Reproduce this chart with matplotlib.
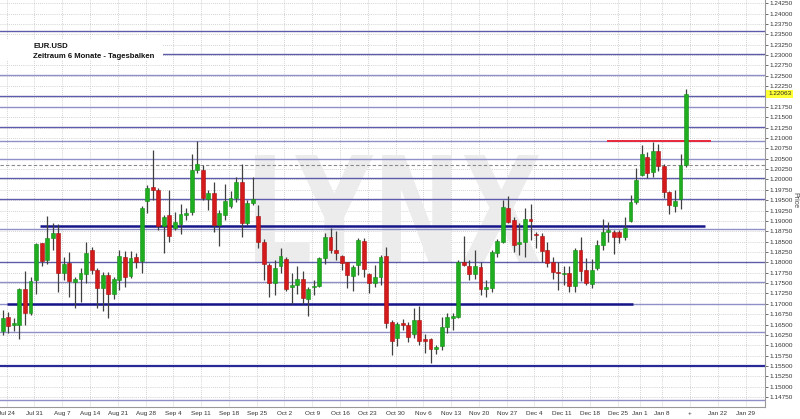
import numpy as np
import pandas as pd
import matplotlib
matplotlib.use("Agg")
import matplotlib.pyplot as plt
from matplotlib.textpath import TextPath
from matplotlib.patches import PathPatch, Rectangle
from matplotlib.transforms import Affine2D, blended_transform_factory
from matplotlib.font_manager import FontProperties

plt.rcParams['font.family'] = ['Liberation Sans', 'DejaVu Sans']

# ---------------- data ----------------
holidays = ["2017-12-25", "2018-01-01"]
start_date = "2017-07-21"
end_date = "2018-01-12"
axis_end_date = "2018-02-09"

opens = [1.1635, 1.1669, 1.1649, 1.1649, 1.1735, 1.1679, 1.1757, 1.1846, 1.1806, 1.1858,
         1.1871, 1.1775, 1.1798, 1.1753, 1.1761, 1.1772, 1.1830, 1.1782, 1.1737, 1.1769,
         1.1724, 1.1757, 1.1814, 1.1766, 1.1812, 1.1804, 1.1947, 1.1981, 1.1975, 1.1888,
         1.1914, 1.1884, 1.1893, 1.1914, 1.1922, 1.2024, 1.2024, 1.1953, 1.1968, 1.1890,
         1.1914, 1.1936, 1.1955, 1.1995, 1.1894, 1.1944, 1.1912, 1.1850, 1.1794, 1.1749,
         1.1790, 1.1807, 1.1740, 1.1745, 1.1761, 1.1712, 1.1740, 1.1743, 1.1810, 1.1860,
         1.1831, 1.1815, 1.1800, 1.1768, 1.1794, 1.1852, 1.1772, 1.1751, 1.1765, 1.1815,
         1.1657, 1.1617, 1.1653, 1.1648, 1.1627, 1.1661, 1.1614, 1.1614, 1.1590, 1.1599,
         1.1643, 1.1665, 1.1669, 1.1802, 1.1790, 1.1773, 1.1788, 1.1735, 1.1737, 1.1823,
         1.1850, 1.1930, 1.1901, 1.1845, 1.1850, 1.1904, 1.1868, 1.1864, 1.1830, 1.1802,
         1.1777, 1.1772, 1.1775, 1.1743, 1.1830, 1.1782, 1.1748, 1.1786, 1.1842, 1.1874,
         1.1874, 1.1874, 1.1860, 1.1900, 1.1945, 1.2011, 1.2053, 1.2017, 1.2069, 1.2033,
         1.1969, 1.1937, 1.1953, 1.2035]
highs = [1.1685, 1.1681, 1.1665, 1.1737, 1.1779, 1.1764, 1.1847, 1.1847, 1.1912, 1.1894,
         1.1892, 1.1814, 1.1826, 1.1765, 1.1786, 1.1850, 1.1838, 1.1786, 1.1777, 1.1777,
         1.1765, 1.1830, 1.1828, 1.1827, 1.1822, 1.1936, 1.1987, 1.2071, 1.1979, 1.1914,
         1.1975, 1.1922, 1.1942, 1.1930, 1.2062, 1.2094, 1.2034, 1.1975, 1.1995, 1.1926,
         1.1988, 1.1973, 1.2007, 1.2037, 1.1950, 1.2007, 1.1938, 1.1856, 1.1798, 1.1806,
         1.1834, 1.1814, 1.1775, 1.1790, 1.1780, 1.1741, 1.1757, 1.1814, 1.1872, 1.1882,
         1.1876, 1.1818, 1.1802, 1.1794, 1.1858, 1.1858, 1.1775, 1.1794, 1.1818, 1.1838,
         1.1661, 1.1657, 1.1663, 1.1657, 1.1689, 1.1695, 1.1627, 1.1617, 1.1600, 1.1669,
         1.1678, 1.1677, 1.1806, 1.1863, 1.1805, 1.1830, 1.1800, 1.1757, 1.1830, 1.1856,
         1.1950, 1.1960, 1.1910, 1.1894, 1.1930, 1.1941, 1.1874, 1.1872, 1.1850, 1.1814,
         1.1802, 1.1791, 1.1791, 1.1834, 1.1862, 1.1810, 1.1807, 1.1854, 1.1904, 1.1898,
         1.1877, 1.1877, 1.1910, 1.1963, 1.2027, 1.2082, 1.2067, 1.2090, 1.2085, 1.2037,
         1.1972, 1.1975, 1.2061, 1.2218]
lows = [1.1625, 1.1629, 1.1635, 1.1614, 1.1649, 1.1673, 1.1724, 1.1790, 1.1795, 1.1831,
        1.1729, 1.1757, 1.1717, 1.1689, 1.1705, 1.1751, 1.1772, 1.1689, 1.1683, 1.1665,
        1.1711, 1.1733, 1.1741, 1.1762, 1.1786, 1.1774, 1.1918, 1.1950, 1.1878, 1.1823,
        1.1850, 1.1878, 1.1868, 1.1902, 1.1914, 1.2016, 1.1950, 1.1926, 1.1874, 1.1839,
        1.1902, 1.1930, 1.1946, 1.1862, 1.1890, 1.1938, 1.1834, 1.1757, 1.1717, 1.1721,
        1.1775, 1.1732, 1.1700, 1.1724, 1.1700, 1.1670, 1.1721, 1.1740, 1.1796, 1.1822,
        1.1806, 1.1782, 1.1737, 1.1731, 1.1770, 1.1764, 1.1727, 1.1741, 1.1745, 1.1641,
        1.1577, 1.1597, 1.1637, 1.1609, 1.1617, 1.1601, 1.1582, 1.1556, 1.1580, 1.1588,
        1.1630, 1.1637, 1.1665, 1.1790, 1.1757, 1.1761, 1.1722, 1.1717, 1.1729, 1.1814,
        1.1846, 1.1894, 1.1826, 1.1818, 1.1814, 1.1854, 1.1834, 1.1801, 1.1789, 1.1761,
        1.1733, 1.1745, 1.1729, 1.1729, 1.1756, 1.1745, 1.1737, 1.1782, 1.1830, 1.1850,
        1.1820, 1.1846, 1.1855, 1.1898, 1.1942, 1.2009, 1.2003, 1.2007, 1.2020, 1.1956,
        1.1916, 1.1922, 1.1929, 1.2031]
closes = [1.1665, 1.1647, 1.1653, 1.1735, 1.1677, 1.1755, 1.1844, 1.1803, 1.1858, 1.1871,
          1.1775, 1.1796, 1.1755, 1.1761, 1.1775, 1.1822, 1.1782, 1.1737, 1.1769, 1.1724,
          1.1761, 1.1815, 1.1764, 1.1810, 1.1802, 1.1930, 1.1980, 1.1975, 1.1888, 1.1910,
          1.1864, 1.1898, 1.1916, 1.1920, 1.2024, 1.2037, 1.1955, 1.1968, 1.1890, 1.1920,
          1.1949, 1.1955, 1.1995, 1.1896, 1.1944, 1.1952, 1.1850, 1.1796, 1.1749, 1.1786,
          1.1815, 1.1735, 1.1746, 1.1761, 1.1715, 1.1735, 1.1743, 1.1810, 1.1860, 1.1831,
          1.1823, 1.1798, 1.1770, 1.1788, 1.1854, 1.1785, 1.1751, 1.1764, 1.1813, 1.1653,
          1.1611, 1.1651, 1.1648, 1.1621, 1.1661, 1.1611, 1.1611, 1.1590, 1.1596, 1.1645,
          1.1667, 1.1671, 1.1802, 1.1794, 1.1771, 1.1791, 1.1735, 1.1740, 1.1826, 1.1852,
          1.1934, 1.1898, 1.1842, 1.1848, 1.1904, 1.1900, 1.1866, 1.1828, 1.1799, 1.1777,
          1.1775, 1.1774, 1.1743, 1.1830, 1.1780, 1.1751, 1.1781, 1.1842, 1.1874, 1.1877,
          1.1860, 1.1860, 1.1884, 1.1945, 1.1999, 1.2061, 1.2015, 1.2069, 1.2033, 1.1969,
          1.1938, 1.1948, 1.2035, 1.22063]

week_labels = ["Jul 24", "Jul 31", "Aug 7", "Aug 14", "Aug 21", "Aug 28", "Sep 4", "Sep 11",
               "Sep 18", "Sep 25", "Oct 2", "Oct 9", "Oct 16", "Oct 23", "Oct 30", "Nov 6",
               "Nov 13", "Nov 20", "Nov 27", "Dec 4", "Dec 11", "Dec 18", "Dec 25", "Jan 1",
               "Jan 8", "+", "Jan 22", "Jan 29"]

# support / resistance levels (full width)
levels_dark = [1.2359, 1.2302, 1.2202, 1.2127, 1.2004, 1.1952, 1.1801]
levels_light = [1.2252, 1.2174, 1.2094, 1.2049, 1.1880, 1.1753, 1.1700, 1.1632, 1.1469]
level_bold_full = 1.1550
# partial thick lines: (price, start date, end date)
thick_lines = [(1.1888, "2017-08-01", "2018-01-17"), (1.1700, "2017-07-24", "2017-12-28")]
red_line = (1.2093, "2017-12-21", "2018-01-18")
prev_close = 1.2035
last_price = 1.22063

title1 = "EUR.USD"
title2 = "Zeitraum 6 Monate - Tagesbalken"

# ---------------- build axis ----------------
all_days = pd.bdate_range(start_date, axis_end_date)
all_days = all_days[~all_days.isin(pd.to_datetime(holidays))]
n = len(pd.bdate_range(start_date, end_date).difference(pd.to_datetime(holidays)))
x = np.arange(n)
O = np.array(opens); H = np.array(highs); L = np.array(lows); C = np.array(closes)


def day_index(d):
    d = pd.Timestamp(d)
    return float(np.searchsorted(all_days.values, np.datetime64(d)))

wk = all_days.to_period('W-SUN')
first_idx = []
for i in range(1, len(all_days)):
    if wk[i] != wk[i - 1]:
        first_idx.append(i)
first_idx = np.array(first_idx[:len(week_labels)])
grid_x = first_idx - 0.3

fig = plt.figure(figsize=(8.0, 4.19), dpi=100)
ax = fig.add_axes([0, 1 - 407 / 419, 765 / 800, 407 / 419])
ax.set_facecolor('white')

ymin, ymax = 1.1451, 1.2433
ax.set_xlim(-0.49, 137.2)
ax.set_ylim(ymin, ymax)

yt = np.round(np.arange(1.1475, 1.24251, 0.0025), 5)
ax.set_yticks(yt)
# the 1.22000 label sits under the last-price box in the reference
ax.set_yticklabels(["" if abs(v - 1.22) < 1e-6 else f"{v:.5f}" for v in yt])
ax.yaxis.tick_right()
ax.tick_params(axis='y', labelsize=4.6, colors='#333333', length=2, width=0.5, pad=1.5)
ax.set_xticks(grid_x)
ax.set_xticklabels(week_labels)
ax.tick_params(axis='x', labelsize=4.6, colors='#333333', length=0, pad=3)

for s in ['left', 'top']:
    ax.spines[s].set_visible(False)
for s in ['right', 'bottom']:
    ax.spines[s].set_color('#999999')
    ax.spines[s].set_linewidth(0.8)

# dotted grid
for v in yt:
    ax.axhline(v, color='#c4c4c4', lw=0.6, ls=(0, (1, 1.5)), zorder=1)
for gx in grid_x:
    ax.axvline(gx, color='#c4c4c4', lw=0.6, ls=(0, (1, 1.5)), zorder=1)

# watermark
tp = TextPath((0, 0), "LYNX", size=100, prop=FontProperties(family='DejaVu Sans', weight='bold'))
bb = tp.get_extents()
x0p, x1p, y0p, y1p = 255, 540, 419 - 263, 419 - 155
tr = (Affine2D().translate(-bb.x0, -bb.y0)
      .scale((x1p - x0p) / bb.width, (y1p - y0p) / bb.height)
      .translate(x0p, y0p).scale(1 / 800, 1 / 419)) + fig.transFigure
ax.add_patch(PathPatch(tp, transform=tr, facecolor='#ececec', edgecolor='none', zorder=1.5))

# level lines
for v in levels_dark:
    ax.axhline(v, color='#5c5cab', lw=1.0, zorder=2)
for v in levels_light:
    ax.axhline(v, color='#9090c8', lw=1.0, zorder=2)
ax.axhline(level_bold_full, color='#2a2a96', lw=1.6, zorder=2)
for v, a, b in thick_lines:
    ax.hlines(v, day_index(a) - 0.3, day_index(b) + 0.4, color='#16168a', lw=1.8, zorder=2.2)
ax.hlines(red_line[0], day_index(red_line[1]) - 0.3, day_index(red_line[2]) + 0.4,
          color='#e8283c', lw=1.4, zorder=2.3)
ax.axhline(prev_close, color='#888888', lw=0.8, ls=(0, (3, 2)), zorder=2.1)

# candles
up = C >= O
bottom = np.minimum(O, C)
height = np.maximum(np.abs(C - O), 0.00012)
ax.vlines(x, L, H, color='#404040', lw=0.9, zorder=3)
ax.bar(x[up], height[up], bottom=bottom[up], width=0.7, color='#1fae1f',
       edgecolor='#168c16', lw=0.4, zorder=4)
ax.bar(x[~up], height[~up], bottom=bottom[~up], width=0.7, color='#d41a1a',
       edgecolor='#a81010', lw=0.4, zorder=4)

# last price box
bt = blended_transform_factory(ax.transAxes, ax.transData)
ax.text(1.004, last_price, f"{last_price:.5f}", transform=bt, fontsize=4.6, va='center',
        ha='left', color='#222222', zorder=10, clip_on=False,
        bbox=dict(boxstyle='square,pad=0.25', fc='#ffff33', ec='none'))

# title block
ax.add_patch(Rectangle((0, 1 - 60 / 419), 163 / 800, 21 / 419, transform=fig.transFigure,
                       facecolor='white', edgecolor='none', zorder=5))
fig.text(33 / 800, 1 - 46.5 / 419, title1, fontsize=5.6, fontweight='bold', va='center',
         ha='left', color='#111111', zorder=6)
fig.text(33 / 800, 1 - 56.5 / 419, title2, fontsize=5.6, fontweight='bold', va='center',
         ha='left', color='#111111', zorder=6)
fig.text(795 / 800, 1 - 200 / 419, "Price", rotation=270, fontsize=5, va='center',
         ha='center', color='#444444')

fig.savefig("out.png", dpi=100)
